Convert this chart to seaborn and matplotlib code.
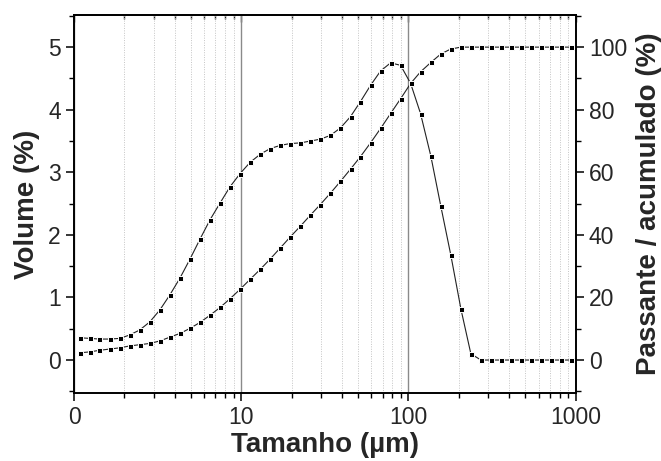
import pandas as pd
import seaborn as sns
import matplotlib.pyplot as plt
from matplotlib.ticker import FixedLocator, FixedFormatter, LogLocator, NullFormatter, MultipleLocator

# particle size classes (um)
tamanho = [1.08, 1.24, 1.42, 1.63, 1.88, 2.15, 2.47, 2.84, 3.26, 3.74,
           4.30, 4.93, 5.66, 6.50, 7.47, 8.57, 9.84, 11.3, 13.0, 14.9,
           17.1, 19.6, 22.5, 25.9, 29.7, 34.1, 39.2, 45.0, 51.6, 59.3,
           68.1, 78.2, 89.7, 103, 118, 136, 156, 179, 206, 236,
           271, 311, 357, 410, 471, 541, 621, 713, 819, 940]

# volume (%) per class
volume = [0.356, 0.346, 0.335, 0.335, 0.346, 0.40, 0.48, 0.61, 0.80, 1.04,
          1.31, 1.61, 1.93, 2.24, 2.51, 2.77, 2.98, 3.16, 3.29, 3.38,
          3.43, 3.46, 3.47, 3.50, 3.53, 3.59, 3.71, 3.89, 4.13, 4.39,
          4.62, 4.75, 4.71, 4.42, 3.94, 3.26, 2.46, 1.68, 0.81, 0.10,
          0.0, 0.0, 0.0, 0.0, 0.0, 0.0, 0.0, 0.0, 0.0, 0.0]

# cumulative passing (%)
passante = [2.3, 2.6, 3.1, 3.5, 3.9, 4.5, 4.9, 5.3, 6.1, 7.3,
            8.5, 10.1, 12.0, 14.3, 16.8, 19.6, 22.6, 25.8, 29.0, 32.3,
            35.8, 39.3, 42.7, 46.3, 49.7, 53.3, 57.1, 61.0, 65.0, 69.4,
            74.0, 78.8, 83.5, 88.4, 92.1, 95.1, 97.8, 99.4, 100, 100,
            100, 100, 100, 100, 100, 100, 100, 100, 100, 100]

x_ticks = [1, 10, 100, 1000]
x_tick_labels = ['0', '10', '100', '1000']

df = pd.DataFrame({'tamanho': tamanho, 'volume': volume, 'passante': passante})

sns.set_style('ticks')
plt.rcParams['font.family'] = ['Liberation Sans', 'DejaVu Sans']
plt.rcParams['xtick.direction'] = 'out'
plt.rcParams['ytick.direction'] = 'out'

txt = '#262626'
fig = plt.figure(figsize=(6.61, 4.61), dpi=100)
ax = fig.add_axes([0.112, 0.1475, 0.759, 0.8195])
ax2 = ax.twinx()

ax.set_xscale('log')
ax.set_xlim(1, 1000)
ax.set_ylim(-0.527, 5.511)
ax2.set_ylim(-10.54, 110.2)

# vertical grid
ax.grid(which='minor', axis='x', linestyle=(0, (1, 1.5)), color='#c4c4c4', linewidth=0.7)
ax.grid(which='major', axis='x', linestyle='-', color='#8a8a8a', linewidth=1.0)
ax.grid(which='major', axis='y', visible=False)
ax.set_axisbelow(True)

line_kw = dict(marker='s', markersize=3.6, markerfacecolor='black', markeredgecolor='white',
               markeredgewidth=0.7, color='#222222', linewidth=0.8)
sns.lineplot(data=df, x='tamanho', y='volume', ax=ax, **line_kw)
sns.lineplot(data=df, x='tamanho', y='passante', ax=ax2, **line_kw)

ax.xaxis.set_major_locator(FixedLocator(x_ticks))
ax.xaxis.set_major_formatter(FixedFormatter(x_tick_labels))
ax.xaxis.set_minor_locator(LogLocator(base=10, subs=range(2, 10)))
ax.xaxis.set_minor_formatter(NullFormatter())
ax.yaxis.set_major_locator(MultipleLocator(1))
ax.yaxis.set_minor_locator(MultipleLocator(0.5))
ax2.yaxis.set_major_locator(MultipleLocator(20))
ax2.yaxis.set_minor_locator(MultipleLocator(10))
ax2.set_ylim(-10.54, 110.2)

for a in (ax, ax2):
    for s in a.spines.values():
        s.set_linewidth(1.2)
        s.set_color('black')
    a.tick_params(which='major', length=6, width=1.1, labelsize=16.5, labelcolor=txt, color='black')
    a.tick_params(which='minor', length=3.5, width=1.0, color='black')

# inward ticks on the top edge
top = ax.secondary_xaxis('top')
top.xaxis.set_major_locator(FixedLocator(x_ticks))
top.xaxis.set_minor_locator(LogLocator(base=10, subs=range(2, 10)))
top.xaxis.set_minor_formatter(NullFormatter())
top.tick_params(which='both', direction='in', labeltop=False, width=1.0)
top.tick_params(which='major', length=5)
top.tick_params(which='minor', length=3)
top.spines['top'].set_linewidth(1.2)

ax.set_xlabel('Tamanho (µm)', fontsize=20, fontweight='bold', color=txt, labelpad=2)
ax.set_ylabel('Volume (%)', fontsize=20, fontweight='bold', color=txt, labelpad=6)
ax2.set_ylabel('Passante / acumulado (%)', fontsize=20, fontweight='bold', color=txt,
               rotation=90, labelpad=6)

fig.savefig('out.png', dpi=100)
plt.close(fig)
